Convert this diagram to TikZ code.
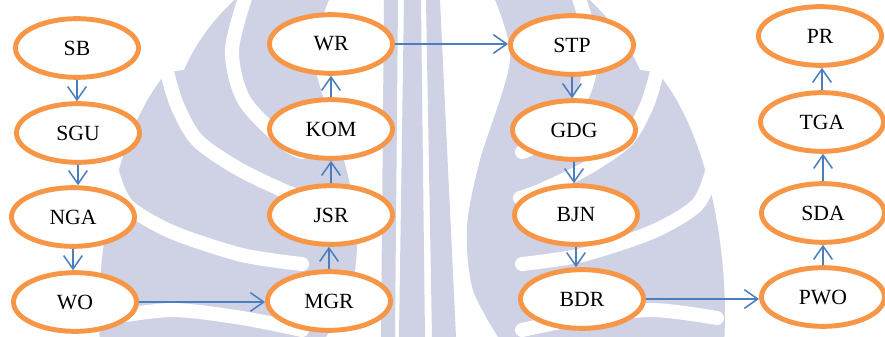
\documentclass[tikz,border=0pt]{standalone}
\usepackage{fontspec}
\setmainfont{Liberation Serif}
\usepackage{tikz}
\usetikzlibrary{
  shapes.geometric,
  arrows.meta
}
\definecolor{FlowOrange}{RGB}{247, 150, 70}
\definecolor{FlowBlue}{RGB}{74, 126, 190}
\definecolor{WaterTint}{RGB}{206, 210, 228}
\tikzset{
    stage/.style={
        ellipse, draw=FlowOrange, fill=white, line width=4.2pt,
        minimum width=3.69cm, minimum height=1.76cm, inner sep=0pt,
        font=\fontsize{18.5}{20}\selectfont
    },
    flow/.style={
        draw=FlowBlue, line width=1.3pt,
        -{Straight Barb[length=4mm, width=5.6mm, line width=1.3pt]}
    },
    gap/.style={draw=white, line width=0.42cm, line cap=round}
}
\begin{document}
\begin{tikzpicture}[x=0.03cm, y=-0.03cm]
    \useasboundingbox (0,0) rectangle (885,337);
    % watermark behind the chart
    \begin{scope}
        \clip (0,0) rectangle (885,337);
        \foreach \side in {1,-1} {
            \begin{scope}[shift={(412,0)}, xscale=\side]
                \fill[WaterTint] (-312,345) .. controls (-318,250) and (-295,130) .. (-245,72)
                    -- (-228,70) .. controls (-215,40) and (-195,15) .. (-172,-5)
                    -- plot[smooth] coordinates {(-81,-5) (-98,60) (-68,160) (-55,227) (-61,290) (-91,345)}
                    -- cycle;
                \draw[gap] plot[smooth] coordinates {(-245,72) (-235,105) (-215,140) (-175,168) (-130,190) (-108,198)};
                \draw[gap] plot[smooth] coordinates {(-165,-8) (-180,50) (-168,100) (-128,142) (-110,152)};
                \draw[gap] plot[smooth] coordinates {(-300,172) (-285,205) (-240,232) (-170,255) (-110,264)};
                \draw[gap] plot[smooth] coordinates {(-305,318) (-240,310) (-170,318) (-110,330)};
            \end{scope}
        }
        \fill[WaterTint] (384,0) -- (398,0) -- (395,337) -- (381,337) -- cycle;
        \fill[WaterTint] (404,0) -- (421,0) -- (425,337) -- (399,337) -- cycle;
        \fill[WaterTint] (426,0) -- (440,0) -- (456,337) -- (432,337) -- cycle;
    \end{scope}

    % first column, top to bottom
    \node[stage] (sb)  at (77,48)   {SB};
    \node[stage] (sgu) at (78,133)  {SGU};
    \node[stage] (nga) at (73,217)  {NGA};
    \node[stage] (wo)  at (75,302)  {WO};
    % second column, bottom to top
    \node[stage] (mgr) at (329,301) {MGR};
    \node[stage] (jsr) at (331,215) {JSR};
    \node[stage] (kom) at (331,129) {KOM};
    \node[stage] (wr)  at (331,44)  {WR};
    % third column, top to bottom
    \node[stage] (stp) at (572,45)  {STP};
    \node[stage] (gdg) at (574,130) {GDG};
    \node[stage] (bjn) at (576,215) {BJN};
    \node[stage] (bdr) at (582,299) {BDR};
    % fourth column, bottom to top
    \node[stage] (pwo) at (823,297) {PWO};
    \node[stage] (sda) at (823,213) {SDA};
    \node[stage] (tga) at (822,122) {TGA};
    \node[stage] (pr)  at (820,36)  {PR};

    \draw[flow] (sb.south)  -- (sb.south |- sgu.north);
    \draw[flow] (sgu.south) -- (sgu.south |- nga.north);
    \draw[flow] (nga.south) -- (nga.south |- wo.north);
    \draw[flow] (wo.east)   -- (wo.east -| mgr.west);
    \draw[flow] (mgr.north) -- (mgr.north |- jsr.south);
    \draw[flow] (jsr.north) -- (jsr.north |- kom.south);
    \draw[flow] (kom.north) -- (kom.north |- wr.south);
    \draw[flow] (wr.east)   -- (wr.east -| stp.west);
    \draw[flow] (stp.south) -- (stp.south |- gdg.north);
    \draw[flow] (gdg.south) -- (gdg.south |- bjn.north);
    \draw[flow] (bjn.south) -- (bjn.south |- bdr.north);
    \draw[flow] (bdr.east)  -- (bdr.east -| pwo.west);
    \draw[flow] (pwo.north) -- (pwo.north |- sda.south);
    \draw[flow] (sda.north) -- (sda.north |- tga.south);
    \draw[flow] (tga.north) -- (tga.north |- pr.south);
\end{tikzpicture}
\end{document}
